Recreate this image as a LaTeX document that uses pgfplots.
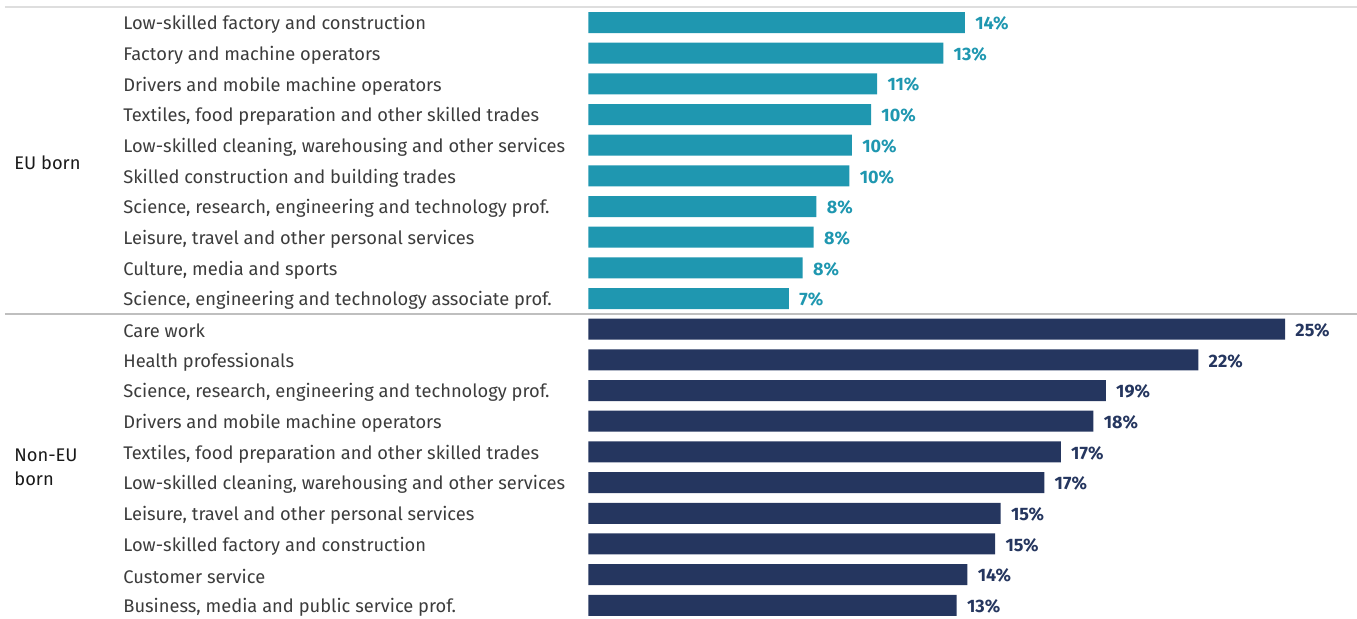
\documentclass[border=0pt]{standalone}
\usepackage{fontspec}
\setmainfont{Fira Sans}
\usepackage{pgfplots}
\usepackage{pgfplotstable}
\pgfplotsset{compat=1.18}
\definecolor{eu}{RGB}{31,151,176}
\definecolor{noneu}{RGB}{37,54,95}
\definecolor{lbl}{RGB}{60,60,60}
\newlength{\pxu}\setlength{\pxu}{0.5pt}

% y = row (0 at top), x = share in %, lab = printed value
\pgfplotstableread{
y x lab
0 13.72 14
1 12.93 13
2 10.52 11
3 10.30 10
4 9.60 10
5 9.51 10
6 8.31 8
7 8.21 8
8 7.81 8
9 7.31 7
}\eudata
\pgfplotstableread{
y x lab
10 25.38 25
11 22.22 22
12 18.85 19
13 18.40 18
14 17.21 17
15 16.61 17
16 15.02 15
17 14.82 15
18 13.81 14
19 13.42 13
}\noneudata

\begin{document}
\begin{tikzpicture}
\begin{axis}[
    name=a,
    xbar, bar width=21\pxu, bar shift=0pt,
    scale only axis,
    width=768.7\pxu, height=613.4\pxu,
    xmin=0, xmax=28,
    ymin=-0.5, ymax=19.5,
    y dir=reverse,
    axis line style={draw=none},
    xtick=\empty,
    ytick={0,...,19},
    yticklabels={
        Low-skilled factory and construction,
        Factory and machine operators,
        Drivers and mobile machine operators,
        {Textiles, food preparation and other skilled trades},
        {Low-skilled cleaning, warehousing and other services},
        Skilled construction and building trades,
        {Science, research, engineering and technology prof.},
        {Leisure, travel and other personal services},
        {Culture, media and sports},
        {Science, engineering and technology associate prof.},
        Care work,
        Health professionals,
        {Science, research, engineering and technology prof.},
        Drivers and mobile machine operators,
        {Textiles, food preparation and other skilled trades},
        {Low-skilled cleaning, warehousing and other services},
        {Leisure, travel and other personal services},
        Low-skilled factory and construction,
        Customer service,
        {Business, media and public service prof.}},
    major tick length=0pt,
    yticklabel style={anchor=west, inner sep=0pt, xshift=-465.3\pxu, yshift=-1pt,
        font=\fontsize{9.15}{11}\selectfont, text=lbl},
    clip=false,
    point meta=explicit symbolic,
    nodes near coords={\pgfplotspointmeta\%},
    nodes near coords style={anchor=west, inner sep=0pt, xshift=5pt, yshift=-0.5pt,
        font=\bfseries\fontsize{9}{11}\selectfont},
]
\draw[color=black!13, line width=1.5\pxu] (axis cs:-21.25,-0.5) -- (axis cs:28,-0.5);
\draw[color=black!25, line width=1.5\pxu] (axis cs:-21.25,9.5) -- (axis cs:28,9.5);
\addplot[fill=eu, draw=none, nodes near coords style={text=eu}]
    table[x=x, y=y, meta=lab] {\eudata};
\addplot[fill=noneu, draw=none, nodes near coords style={text=noneu}]
    table[x=x, y=y, meta=lab] {\noneudata};
\node[anchor=west, inner sep=0pt, xshift=-574.3\pxu, yshift=-1pt, font=\fontsize{9.15}{11}\selectfont, text=black!90]
    at (axis cs:0,4.5) {EU born};
\node[anchor=west, inner sep=0pt, xshift=-574.3\pxu, align=left, font=\fontsize{9.15}{12}\selectfont, text=black!90]
    at (axis cs:0,14.5) {Non-EU\\born};
\end{axis}
\pgfresetboundingbox
\useasboundingbox ([xshift=-588.3\pxu,yshift=7.2\pxu]a.north west) rectangle ([yshift=1.6\pxu]a.south east);
\end{tikzpicture}
\end{document}
